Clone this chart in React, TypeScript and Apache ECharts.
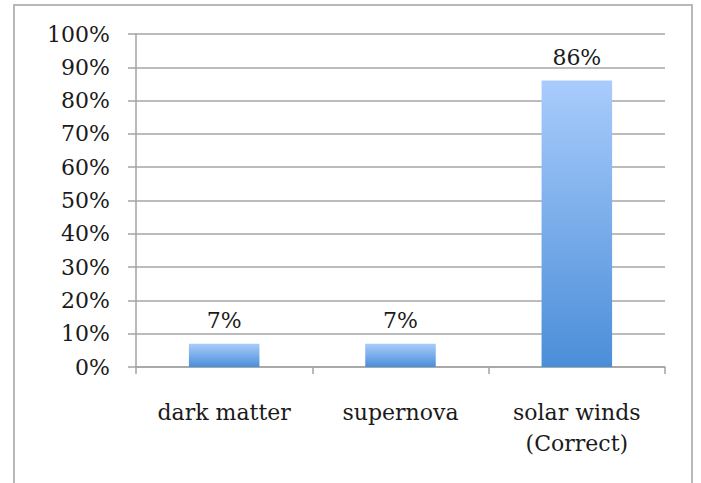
import React, { useEffect, useRef } from "react";
import * as echarts from "echarts";

const categories = ["dark matter", "supernova", "solar winds\n(Correct)"];
const values = [7, 7, 86];
const yTicks = { min: 0, max: 100, interval: 10 };

export default function App() {
  const ref = useRef<HTMLDivElement>(null);
  useEffect(() => {
    if (!ref.current) return;
    const chart = echarts.init(ref.current, undefined, { renderer: "svg" });
    const font = "DejaVu Serif";
    chart.setOption({
      animation: false,
      backgroundColor: "#ffffff",
      graphic: [
        {
          type: "rect",
          shape: { x: 14, y: 5, width: 678, height: 520 },
          style: { fill: "none", stroke: "#b8b8b8", lineWidth: 2 },
          silent: true,
        },
      ],
      grid: { left: 136, right: 36, top: 34, bottom: 116 },
      xAxis: {
        type: "category",
        data: categories,
        axisLine: { show: true, lineStyle: { color: "#a3a3a3", width: 1.5 } },
        axisTick: { show: true, length: 7, lineStyle: { color: "#a3a3a3", width: 1.5 } },
        axisLabel: {
          margin: 30,
          fontFamily: font,
          fontSize: 22,
          lineHeight: 31,
          color: "#1a1a1a",
          interval: 0,
        },
      },
      yAxis: {
        type: "value",
        min: yTicks.min,
        max: yTicks.max,
        interval: yTicks.interval,
        axisLine: { show: true, lineStyle: { color: "#a3a3a3", width: 1.5 } },
        axisTick: { show: true, length: 8, lineStyle: { color: "#a3a3a3", width: 1.5 } },
        splitLine: { show: true, lineStyle: { color: "#a6a6a6", width: 1.5 } },
        axisLabel: {
          formatter: "{value}%",
          margin: 26,
          fontFamily: font,
          fontSize: 22,
          color: "#1a1a1a",
        },
      },
      series: [
        {
          type: "bar",
          data: values,
          barWidth: "40%",
          itemStyle: {
            color: new echarts.graphic.LinearGradient(0, 0, 0, 1, [
              { offset: 0, color: "#a9ccfc" },
              { offset: 1, color: "#4b8ed8" },
            ]),
          },
          label: {
            show: true,
            position: "top",
            distance: 12,
            formatter: "{c}%",
            fontFamily: font,
            fontSize: 22,
            color: "#1a1a1a",
          },
        },
      ],
    });
    return () => chart.dispose();
  }, []);
  return (
    <div
      ref={ref}
      style={{ position: "fixed", left: 0, top: 0, width: 701, height: 483 }}
    />
  );
}
